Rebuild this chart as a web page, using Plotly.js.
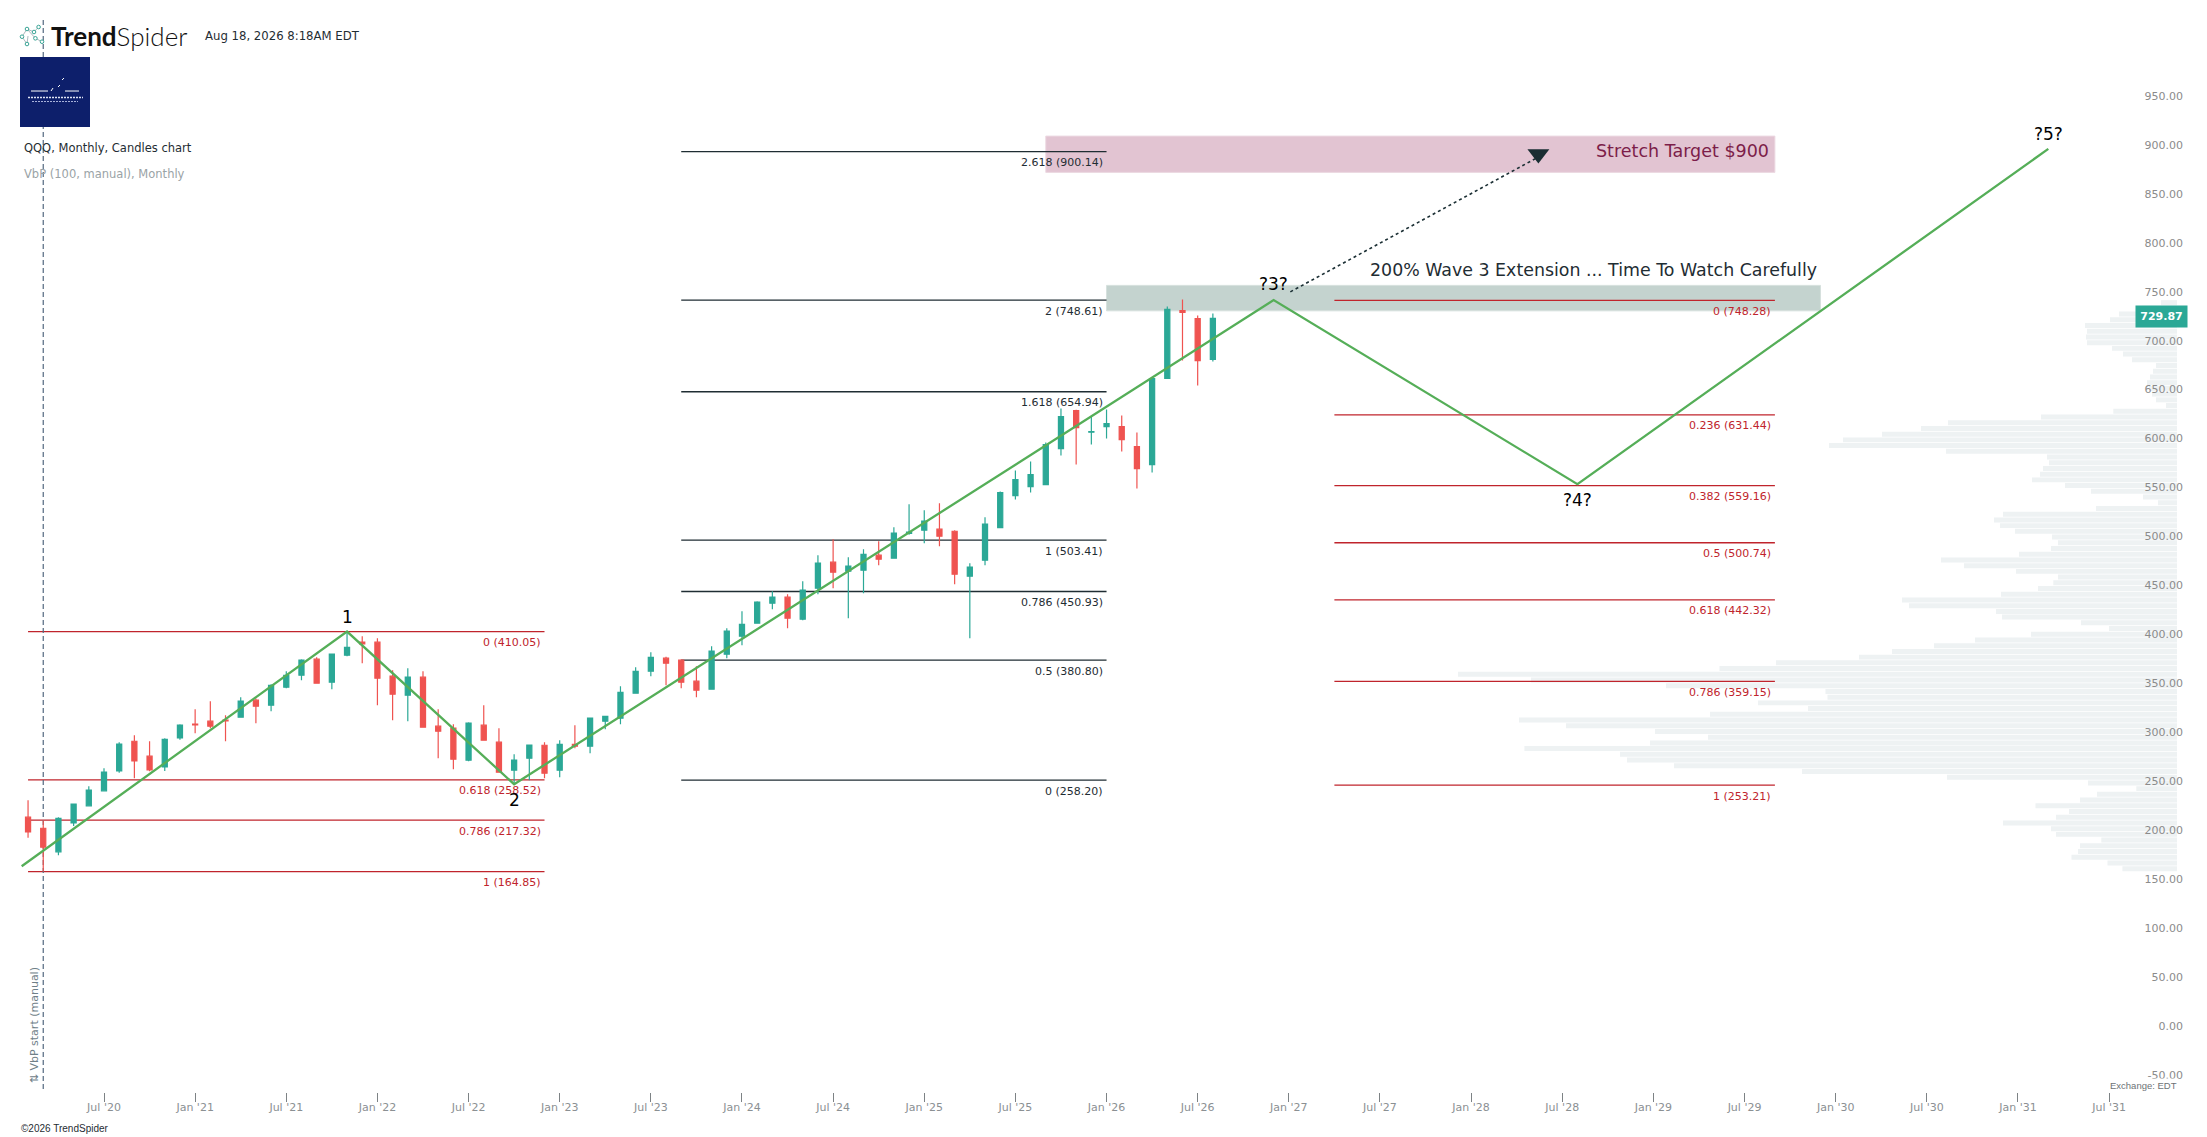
<!DOCTYPE html>
<html>
<head>
<meta charset="utf-8">
<script src="https://cdn.plot.ly/plotly-3.0.1.min.js"></script>
<style>html,body{margin:0;padding:0;background:#fff}#c{width:2207px;height:1137px}</style>
</head>
<body>
<div id="c"></div>
<script>
// month index: 0 = Jul 2020
const firstMonthIndex = -5; // Feb 2020
const opens  = [220.4,209.1,185,214.6,232,247.3,267.7,298,282.7,271.8,301.4,315.4,318.5,319.5,322.5,339.9,334.8,353.2,365.4,381.8,358.3,385.9,399.2,399.2,364.4,345,363.4,313.4,311.3,278.6,314.4,297,268.4,280.6,293.9,268.4,294.9,292.9,318.4,321.5,347,369.5,382.8,380.8,359.3,351.1,386.9,405.3,418.6,439,445.1,422.6,454.3,480.9,471.7,472.7,488,485,510.2,513.6,514.6,512.5,466.6,482.9,516.2,548.9,558.1,560.2,596.9,635.8,613.6,619.4,619.4,599,580.6,668.5,737.9,729.8,687.9];
const highs  = [237.7,217.3,220.4,234.2,252,270.4,297,304.2,298,301.1,315.4,330.7,338.9,324.6,343,341.6,356.3,369.5,381.8,383.9,387,410,405.3,403.2,370.6,372.6,369.5,330.7,315.4,317.4,334.8,311.3,284.7,294.3,297,299,314.3,321.8,323.8,354.2,373.6,388.9,384.2,381.8,374.6,395,413.4,430.8,441,451.3,448.2,461.5,488,504.4,486,494.2,502.3,516.6,540,534,541,513.6,479.9,526.9,553,574.5,583.7,603.1,637.8,636.5,629.6,636.8,630.7,613.3,669,742,749.2,732.8,734.9];
const lows   = [199.3,164.9,181.5,211.5,231.5,247,265.7,260.2,267.4,267.7,299.4,306.2,311.3,298,322,316.4,328.7,352.2,360.3,357,351.2,384.9,377.7,334.8,319.5,318.5,312,280.6,269.4,277.6,298.7,266,254.8,258.2,260.2,261.2,290.9,285.7,310.2,315.4,346.8,364.4,355.2,352.1,343,351,382.8,396.1,418.5,432.8,413.4,421.6,448.2,454.3,423.7,449.2,477.8,484.8,509,500.3,497.2,458.4,403.2,477.8,516,544.8,552,560,589.8,580.6,601,607.2,593.9,556.1,572.4,668,686.8,661.3,685.8];
const closes = [205.4,189.7,219.3,233.7,248,266.4,295,277.9,268.7,300,314.4,314.7,313.4,318.8,338.9,333.8,355.2,365.4,380.8,357.3,386.9,394,397.5,362.4,346,363.4,312.3,308.2,279.6,316.4,299,266.4,278.6,294,265.3,294.9,292.9,321.5,323.5,348,369.5,383.8,377.7,358.3,350.1,390,410.4,417.5,440,445.1,423.7,452.3,479.9,470.7,476.8,489,483.9,510.5,511.5,522.8,507.4,468.6,475.8,519.7,552,565.3,570.4,601,629.6,618.4,614.3,622.5,606.1,576.5,668.5,739,735.9,686.8,729.87];

const axisMonths = [0,6,12,18,24,30,36,42,48,54,60,66,72,78,84,90,96,102,108,114,120,126,132];
const axisMonthLabels = ["Jul '20","Jan '21","Jul '21","Jan '22","Jul '22","Jan '23","Jul '23","Jan '24","Jul '24","Jan '25","Jul '25","Jan '26","Jul '26","Jan '27","Jul '27","Jan '28","Jul '28","Jan '29","Jul '29","Jan '30","Jul '30","Jan '31","Jul '31"];
const priceTicks = [-50,0,50,100,150,200,250,300,350,400,450,500,550,600,650,700,750,800,850,900,950];
const priceTickLabels = ["-50.00","0.00","50.00","100.00","150.00","200.00","250.00","300.00","350.00","400.00","450.00","500.00","550.00","600.00","650.00","700.00","750.00","800.00","850.00","900.00","950.00"];

// Fibonacci groups
const fibLeftLevels = [410.05,258.52,217.32,164.85];
const fibLeftLabels = ["0 (410.05)","0.618 (258.52)","0.786 (217.32)","1 (164.85)"];
const fibMidLevels = [900.14,748.61,654.94,503.41,450.93,380.80,258.20];
const fibMidLabels = ["2.618 (900.14)","2 (748.61)","1.618 (654.94)","1 (503.41)","0.786 (450.93)","0.5 (380.80)","0 (258.20)"];
const fibRightLevels = [748.28,631.44,559.16,500.74,442.32,359.15,253.21];
const fibRightLabels = ["0 (748.28)","0.236 (631.44)","0.382 (559.16)","0.5 (500.74)","0.618 (442.32)","0.786 (359.15)","1 (253.21)"];
const fibLeftSpan = [-5,29], fibMidSpan = [38,66], fibRightSpan = [81,110];

// Elliott wave path
const waveMonths = [-5.42,16,27,77,97,128];
const wavePrices = [170.3,410.05,254.1,748.6,560.6,903];
const waveLabels = ["1","2","?3?","?4?","?5?"];
const waveLabelPrices = [410.05,254.1,748.6,560.6,903];
const waveLabelMonths = [16,27,77,97,128];

const arrowMonths = [78.1,94.43];
const arrowPrices = [757,894.7];

// Volume by price, bins low to high
const vbpLow = 164.9, vbpStep = 5.84;
const vbpVolume = [54.6,69.5,105.5,99,97,75.7,121,126,174,121,108,141.5,97,80,40.7,89,230,375,503,550,557,652.6,527,469,522,611,658,467,369,419,349.5,351.5,511,646,719,457.5,401,318,285,243,202,146,68,96,175,181,268,275,176,139,123.7,119,161,213,236,158,126,119,125,162,177,183,174,81,19,34,86,112,145,137,134,128,130,231,348,334,295,256,229,136,63.7,11,21,25,28,30,27,24,21,45,54,65,90,91,90,92,67,58,35,16];
const vbpPrices = vbpVolume.map((_, k) => vbpLow + vbpStep * (k + 0.5));

const lastPrice = 729.87;

const UP = '#2ba896', DOWN = '#ef5350', RED = '#c0242c', INK = '#1f2d33', GREEN = '#55ae58';
const L = 21, R = 2186, B = 1091.7;
const X0 = 104, PXM = 15.19;
const FONT = '"DejaVu Sans", sans-serif';
const xp = px => (px - L) / (R - L);
const yp = py => (B - py) / B;
const candleMonths = opens.map((_, i) => firstMonthIndex + i);

function fibLines(levels, span) {
  const x = [], y = [];
  levels.forEach(v => { x.push(span[0], span[1], null); y.push(v, v, null); });
  return {x, y};
}
const fibTrace = (levels, span, color) => {
  const f = fibLines(levels, span);
  return {type:'scatter', mode:'lines', x:f.x, y:f.y, xaxis:'x2', yaxis:'y', line:{color, width:1.3}, hoverinfo:'skip', zorder:0};
};

const traces = [
  {type:'bar', orientation:'h', x:vbpVolume, y:vbpPrices, xaxis:'x', yaxis:'y', marker:{color:'#eef2f3', line:{width:0}}, hoverinfo:'skip'},
  fibTrace(fibLeftLevels, fibLeftSpan, RED),
  fibTrace(fibMidLevels, fibMidSpan, INK),
  fibTrace(fibRightLevels, fibRightSpan, RED),
  {type:'scatter', mode:'lines', x:[-4,-4], y:[1034.6,-60.28], xaxis:'x2', yaxis:'y', line:{color:'#52687f', width:1.2, dash:'5px,3px'}, hoverinfo:'skip', zorder:0},
  {type:'candlestick', x:candleMonths, open:opens, high:highs, low:lows, close:closes, xaxis:'x2', yaxis:'y', whiskerwidth:0,
   increasing:{line:{color:UP, width:1.2}, fillcolor:UP}, decreasing:{line:{color:DOWN, width:1.2}, fillcolor:DOWN}, hoverinfo:'skip', zorder:1},
  {type:'scatter', mode:'lines', x:waveMonths, y:wavePrices, xaxis:'x2', yaxis:'y', line:{color:GREEN, width:2.3}, hoverinfo:'skip', zorder:2},
  {type:'scatter', mode:'lines', x:arrowMonths, y:arrowPrices, xaxis:'x2', yaxis:'y', line:{color:'#1a2e33', width:1.6, dash:'dot'}, hoverinfo:'skip', zorder:2},
  {type:'scatter', mode:'markers', x:[arrowMonths[1]], y:[arrowPrices[1]+3], xaxis:'x2', yaxis:'y', marker:{symbol:'triangle-down', size:19, color:'#1a2e33'}, hoverinfo:'skip', zorder:2}
];

const annotations = [];
function fibAnno(levels, labels, span, color) {
  levels.forEach((v, i) => annotations.push({xref:'x2', yref:'y', x:span[1], y:v, text:labels[i], showarrow:false, xanchor:'right', yanchor:'middle', xshift:-1.5, yshift:-11, font:{family:FONT, size:11, color}}));
}
fibAnno(fibLeftLevels, fibLeftLabels, fibLeftSpan, RED);
fibAnno(fibMidLevels, fibMidLabels, fibMidSpan, INK);
fibAnno(fibRightLevels, fibRightLabels, fibRightSpan, RED);

const waveShift = [15, -16, 16, -16, 15];
waveLabels.forEach((t, i) => annotations.push({xref:'x2', yref:'y', x:waveLabelMonths[i], y:waveLabelPrices[i], text:t, showarrow:false, yanchor:'middle', yshift:waveShift[i], font:{family:FONT, size:17, color:'#000'}}));

function pageText(text, px, py, size, color, anchor, family, extra) {
  annotations.push(Object.assign({xref:'paper', yref:'paper', x:xp(px), y:yp(py), text, showarrow:false, xanchor:anchor||'left', yanchor:'middle', font:{family:family||FONT, size, color}}, extra||{}));
}
pageText('Stretch Target $900', 1771, 150.7, 17.5, '#7c1d49', 'right');
pageText('200% Wave 3 Extension ... Time To Watch Carefully', 1368, 270, 17.4, INK, 'left');
annotations.push({xref:'paper', yref:'paper', x:xp(49), y:yp(35.6), text:'<b>Trend</b>Spider', showarrow:false, xanchor:'left', yanchor:'middle', font:{family:'Lato, sans-serif', size:26, color:'#111', weight:300}});
pageText('Aug 18, 2026 8:18AM EDT', 203, 35.7, 11.7, INK, 'left');
pageText('QQQ, Monthly, Candles chart', 21.5, 147.7, 11.5, INK, 'left');
pageText('VbP (100, manual), Monthly', 21.5, 173.7, 11.5, '#9aa3a6', 'left');
pageText('©2026 TrendSpider', 19, 1127.7, 10, INK, 'left', '"Liberation Sans", sans-serif');
pageText('Exchange: EDT', 2179, 1085, 9.5, '#6d7376', 'right', '"Liberation Sans", sans-serif', {bgcolor:'rgba(255,255,255,0.85)'});
pageText('⇅ VbP start (manual)', 34, 1025, 11, '#6f8088', 'center', FONT, {textangle:-90, xanchor:'center'});
annotations.push({xref:'paper', yref:'y', x:xp(2161.5), y:lastPrice, yshift:2, text:'<b>729.87</b>', showarrow:false, xanchor:'center', yanchor:'middle', width:49, height:19, bgcolor:UP, font:{family:FONT, size:11, color:'#fff'}});

const rect = (x0,x1,y0,y1,fill,line,layer) => ({type:'rect', xref:'paper', yref:'paper', x0:xp(x0), x1:xp(x1), y0:yp(y0), y1:yp(y1), fillcolor:fill, line:{color:line||fill, width:line?1:0}, layer:layer||'above'});
const seg = (x0,y0,x1,y1,color,w,dash) => ({type:'line', xref:'paper', yref:'paper', x0:xp(x0), x1:xp(x1), y0:yp(y0), y1:yp(y1), line:{color, width:w, dash:dash||'solid'}, layer:'above'});
const ring = (cx,cy,r) => ({type:'circle', xref:'paper', yref:'paper', x0:xp(cx-r), x1:xp(cx+r), y0:yp(cy+r), y1:yp(cy-r), line:{color:'#3aa596', width:1}, fillcolor:'#fff', layer:'above'});

const shapes = [
  {type:'rect', xref:'x2', yref:'y', x0:62, x1:110, y0:879, y1:916.1, fillcolor:'#e2c4d2', line:{color:'#ecd9e2', width:1}, layer:'below'},
  {type:'rect', xref:'x2', yref:'y', x0:66, x1:113, y0:737.6, y1:763.6, fillcolor:'#c4d3cf', line:{color:'#d5e0dd', width:1}, layer:'below'},
  // header badge square
  rect(20,90,57,127,'#0d1f6b'),
  seg(31,91,48,91,'#fff',1), seg(65,91,79,91,'#fff',1),
  seg(51,91,53,88,'#fff',1), seg(58,87,60,85,'#fff',1), seg(62,80,64,78,'#fff',1),
  seg(28,97.5,83,97.5,'#dfe4f4',1.5,'2px,1px'), seg(32,101.5,78,101.5,'#aab4dc',1,'2px,1px'),
  // logo mark
  seg(22,36.7,27,29,'#8a9aa0',0.7), seg(27,29,34,32,'#8a9aa0',0.7), seg(34,32,38.6,27,'#8a9aa0',0.7),
  seg(27,29,35.4,38.3,'#8a9aa0',0.7), seg(35.4,38.3,42,41.7,'#8a9aa0',0.7), seg(27,44,28,36,'#8a9aa0',0.7), seg(22,36.7,27,44,'#8a9aa0',0.7),
  ring(22,36.7,1.8), ring(27,29,1.8), ring(34,32,1.8), ring(38.6,27,1.8), ring(35.4,38.3,1.8), ring(42,41.7,1.8), ring(27,44,1.8)
];

const layout = {
  width:2207, height:1137,
  margin:{l:L, r:2207-R, t:0, b:1137-B, pad:0},
  paper_bgcolor:'#fff', plot_bgcolor:'#fff',
  showlegend:false, hovermode:false, dragmode:false,
  bargap:0.13, boxgap:0.52, boxgroupgap:0.3,
  xaxis:{range:[R-L-9,-9], visible:false, fixedrange:true, anchor:'y', domain:[0,1]},
  xaxis2:{overlaying:'x', anchor:'y', side:'bottom', range:[(L-X0)/PXM,(R-X0)/PXM], tickmode:'array', tickvals:axisMonths, ticktext:axisMonthLabels,
    ticks:'outside', ticklen:9, tickcolor:'#7d8285', tickwidth:1, showline:true, linecolor:'#7d8285', linewidth:1, showgrid:false, zeroline:false,
    ticklabelstandoff:-4, tickfont:{family:FONT, size:11, color:'#8b9093'}, rangeslider:{visible:false}, fixedrange:true, tickangle:0},
  yaxis:{side:'right', anchor:'x', range:[-60.28,1055.1], tickmode:'array', tickvals:priceTicks, ticktext:priceTickLabels, ticks:'', showline:false, showgrid:false, zeroline:false,
    ticklabelposition:'inside', ticklabelshift:-7, tickfont:{family:FONT, size:11, color:'#8b8b8b'}, fixedrange:true},
  annotations, shapes
};
Plotly.newPlot('c', traces, layout, {displayModeBar:false, staticPlot:true});
</script>
</body>
</html>
